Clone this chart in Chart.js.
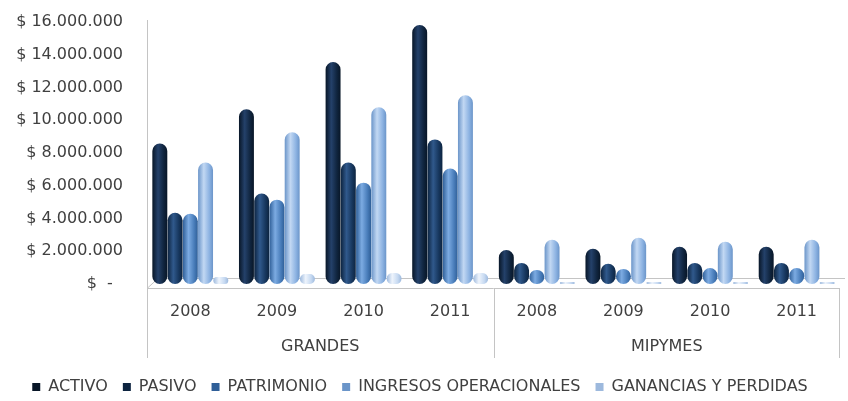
<!DOCTYPE html>
<html>
<head>
<meta charset="utf-8">
<script src="https://cdn.jsdelivr.net/npm/chart.js@4"></script>
<style>
  html, body { margin: 0; padding: 0; background: #fff; }
  #wrap { width: 848px; height: 401px; position: relative; }
</style>
</head>
<body>
<div id="wrap"><canvas id="grafico"></canvas></div>
<script>
// categorias (anio dentro de cada grupo)
const categories = ['2008', '2009', '2010', '2011', '2008', '2009', '2010', '2011'];
const groups = ['GRANDES', 'MIPYMES'];

// valores por serie (pesos)
const activo      = [8580000, 10670000, 13550000, 15820000, 2080000, 2150000, 2270000, 2270000];
const pasivo      = [4350000, 5520000, 7420000, 8830000, 1290000, 1230000, 1290000, 1290000];
const patrimonio  = [4290000, 5150000, 6190000, 7050000, 860000, 920000, 980000, 980000];
const ingresos    = [7420000, 9260000, 10790000, 11530000, 2700000, 2820000, 2580000, 2700000];
const ganancias   = [430000, 610000, 670000, 670000, 120000, 120000, 120000, 120000];

const yTicks = [0, 2000000, 4000000, 6000000, 8000000, 10000000, 12000000, 14000000, 16000000];

const FONT = 'DejaVu Sans';
const TEXT = '#404040';
const LINE = '#c4c4c4';

// color base, borde oscuro y brillo central de cada cilindro
const palette = [
  { base: '#10253f', edge: '#081627', light: '#24416a' },
  { base: '#17375e', edge: '#0d2440', light: '#30598c' },
  { base: '#4a7ebb', edge: '#2f5f98', light: '#7cabe2' },
  { base: '#8db3e2', edge: '#6b95c9', light: '#c2d8f3' },
  { base: '#c6d9f1', edge: '#9db9dd', light: '#eef4fc' }
];

function cylinderFill(i) {
  return function (context) {
    const el = context.element;
    if (!el || el.x == null || !el.width) {
      return palette[i].base;
    }
    const c = context.chart.ctx;
    const g = c.createLinearGradient(el.x - el.width / 2, 0, el.x + el.width / 2, 0);
    g.addColorStop(0, palette[i].edge);
    g.addColorStop(0.38, palette[i].light);
    g.addColorStop(0.75, palette[i].base);
    g.addColorStop(1, palette[i].edge);
    return g;
  };
}

const seriesNames = ['ACTIVO', 'PASIVO', 'PATRIMONIO', 'INGRESOS OPERACIONALES', 'GANANCIAS Y PERDIDAS'];
const seriesValues = [activo, pasivo, patrimonio, ingresos, ganancias];

let datasets = seriesNames.map((name, i) => ({
  label: name,
  data: seriesValues[i],
  backgroundColor: cylinderFill(i),
  borderWidth: 0,
  borderRadius: 8,
  borderSkipped: false,
  categoryPercentage: 0.88,
  barPercentage: 0.98
}));

// piso 3D, lineas del eje y etiquetas de grupo
const ejesPlugin = {
  id: 'ejes',
  beforeDatasetsDraw(chart) {
    const { ctx, chartArea, scales: { y } } = chart;
    const base = y.getPixelForValue(0);
    ctx.save();
    ctx.strokeStyle = LINE;
    ctx.lineWidth = 1;
    ctx.beginPath();
    ctx.moveTo(chartArea.left + 11, base - 5.5);
    ctx.lineTo(chartArea.right + 5, base - 5.5);
    ctx.moveTo(chartArea.left, base + 4.5);
    ctx.lineTo(chartArea.left + 11, base - 5.5);
    ctx.stroke();
    ctx.restore();
  },
  afterDraw(chart) {
    const { ctx, chartArea, scales: { x, y } } = chart;
    const base = y.getPixelForValue(0);
    const bottom = 358;
    ctx.save();
    ctx.strokeStyle = LINE;
    ctx.lineWidth = 1;
    ctx.beginPath();
    // eje vertical
    ctx.moveTo(chartArea.left + 0.5, chartArea.top - 2);
    ctx.lineTo(chartArea.left + 0.5, bottom);
    // linea frontal del piso
    ctx.moveTo(chartArea.left, base + 4.5);
    ctx.lineTo(chartArea.right, base + 4.5);
    // separadores de grupo
    const sepMid = Math.round(x.getPixelForValue(3.5)) + 0.5;
    ctx.moveTo(sepMid, base + 4.5);
    ctx.lineTo(sepMid, bottom);
    ctx.moveTo(chartArea.right - 0.5, base + 4.5);
    ctx.lineTo(chartArea.right - 0.5, bottom);
    ctx.stroke();

    ctx.fillStyle = TEXT;
    ctx.font = '16px "' + FONT + '"';
    ctx.textAlign = 'center';
    ctx.textBaseline = 'middle';
    groups.forEach((g, i) => {
      ctx.fillText(g, x.getPixelForValue(1.5 + i * 4), 347);
    });
    ctx.restore();
  }
};

let canvas = document.getElementById('grafico');
let ctxBar = canvas.getContext('2d');

let chart = new Chart(ctxBar, {
  type: 'bar',
  data: {
    labels: categories,
    datasets: datasets
  },
  options: {
    responsive: true,
    maintainAspectRatio: false,
    animation: false,
    layout: {
      padding: { top: 22, right: 8, left: 0, bottom: -4 }
    },
    plugins: {
      tooltip: { enabled: false },
      legend: {
        position: 'bottom',
        labels: {
          boxWidth: 8,
          boxHeight: 8,
          padding: 15,
          color: TEXT,
          font: { family: FONT, size: 16 }
        }
      }
    },
    scales: {
      x: {
        grid: { display: false, drawTicks: false },
        border: { display: false },
        ticks: {
          color: TEXT,
          padding: 18,
          font: { family: FONT, size: 16 }
        },
        afterFit(scale) {
          scale.height = 80;
        }
      },
      y: {
        min: 0,
        max: 16000000,
        afterBuildTicks(scale) {
          scale.ticks = yTicks.map(v => ({ value: v }));
        },
        grid: { display: false, drawTicks: false },
        border: { display: false },
        ticks: {
          color: TEXT,
          padding: 24,
          font: { family: FONT, size: 16 },
          callback: function (value) {
            if (value === 0) {
              return '$  -  ';
            }
            return '$ ' + value.toLocaleString('de-DE');
          }
        },
        afterFit(scale) {
          scale.width = 147;
          // el padding de las etiquetas no debe empujar el area hacia abajo
          scale.paddingTop = 0;
          scale.paddingBottom = 0;
        }
      }
    }
  },
  plugins: [ejesPlugin]
});

// segunda pasada para que el degradado use la posicion de cada barra
chart.update();
</script>
</body>
</html>
